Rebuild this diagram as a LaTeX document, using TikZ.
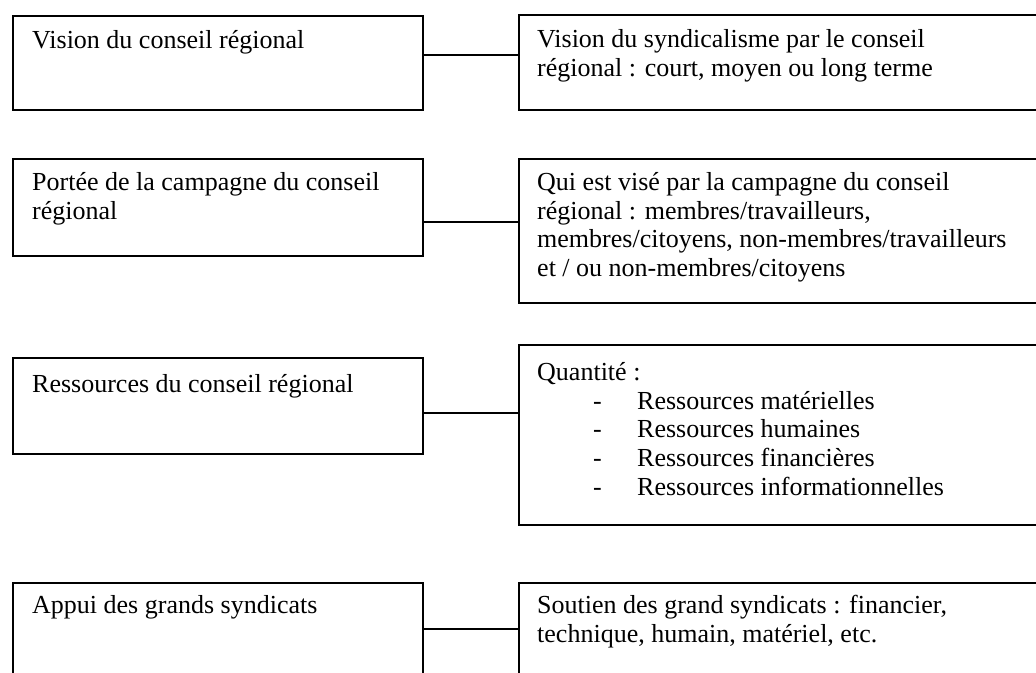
\documentclass[tikz,border=0pt]{standalone}
\usepackage{fontspec}
\setmainfont{Liberation Serif}
\begin{document}
\begin{tikzpicture}[x=1pt,y=-1pt,
  box/.style={draw, line width=2.2pt, rectangle, anchor=north west, inner sep=0pt},
  lbox/.style={box, minimum width=410pt},
  rbox/.style={box, minimum width=530pt},
  txt/.style={anchor=north west, inner sep=0pt, align=left,
              font=\fontsize{26}{28.8}\selectfont},
  link/.style={line width=2.2pt}]
\useasboundingbox (0,0) rectangle (1036,672);
\clip (0,0) rectangle (1036,672);

% left column
\node[lbox, minimum height=94pt]  (L1) at (12,15)  {};
\node[lbox, minimum height=97pt]  (L2) at (12,158) {};
\node[lbox, minimum height=96pt]  (L3) at (12,357) {};
\node[lbox, minimum height=120pt] (L4) at (12,582) {};

% right column (runs past the right edge)
\node[rbox, minimum height=95pt]  (R1) at (518,14)  {};
\node[rbox, minimum height=144pt] (R2) at (518,158) {};
\node[rbox, minimum height=180pt] (R3) at (518,344) {};
\node[rbox, minimum height=120pt] (R4) at (518,582) {};

% labels
\node[txt] (T1) at (32,28)  {\strut Vision du conseil régional};
\node[txt] (T2) at (32,170) {\strut Portée de la campagne du conseil\\régional};
\node[txt] (T3) at (32,372) {\strut Ressources du conseil régional};
\node[txt] (T4) at (32,593) {\strut Appui des grands syndicats};

\node[txt] (U1) at (537,27)  {\strut Vision du syndicalisme par le conseil\\régional : court, moyen ou long terme};
\node[txt] (U2) at (537,170) {\strut Qui est visé par la campagne du conseil\\régional : membres/travailleurs,\\membres/citoyens, non-membres/travailleurs\\et / ou non-membres/citoyens};
\node[txt] (U3) at (537,360) {\strut Quantité :\\
  \rlap{\hspace{56pt}-}\hspace{100pt}Ressources matérielles\\
  \rlap{\hspace{56pt}-}\hspace{100pt}Ressources humaines\\
  \rlap{\hspace{56pt}-}\hspace{100pt}Ressources financières\\
  \rlap{\hspace{56pt}-}\hspace{100pt}Ressources informationnelles};
\node[txt] (U4) at (537,593) {\strut Soutien des grand syndicats : financier,\\technique, humain, matériel, etc.};

% connectors
\coordinate (c1) at (0,55);
\coordinate (c2) at (0,222);
\coordinate (c3) at (0,413);
\coordinate (c4) at (0,629);
\draw[link] (L1.east |- c1) -- (R1.west |- c1);
\draw[link] (L2.east |- c2) -- (R2.west |- c2);
\draw[link] (L3.east |- c3) -- (R3.west |- c3);
\draw[link] (L4.east |- c4) -- (R4.west |- c4);
\end{tikzpicture}
\end{document}
